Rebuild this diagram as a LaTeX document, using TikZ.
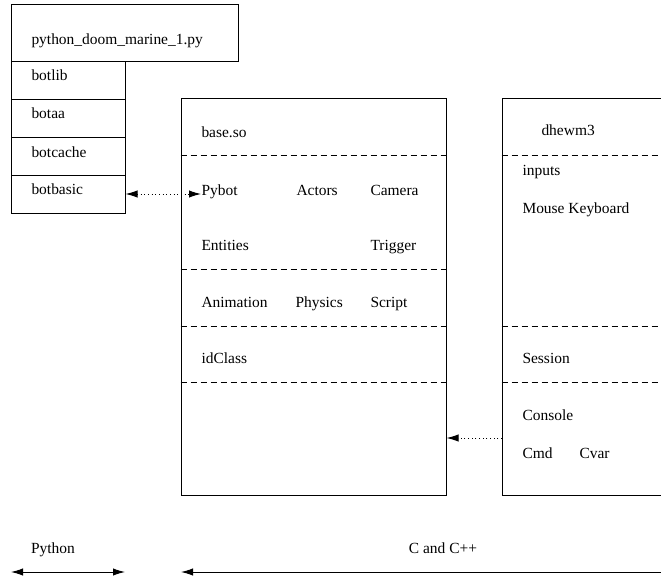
\documentclass[tikz,border=0pt]{standalone}
\usepackage{fontspec}
\setmainfont{Liberation Serif}
\usetikzlibrary{arrows.meta}

\begin{document}
\begin{tikzpicture}[x=0.75pt,y=-0.75pt,line width=0.75pt]
      \tikzstyle{every node}+=[inner sep=0pt, font=\fontsize{11.6}{14}\selectfont]
      \tikzstyle{box}=[draw, rectangle, inner sep=0pt]
      \tikzstyle{lbl}=[anchor=base west]
      \tikzstyle{sep}=[dash pattern=on 4.5pt off 3pt]
      \tikzstyle{tip}=[>={Latex[length=9pt,width=5.5pt]}]
      \tikzstyle{link}=[tip, dotted]
      \clip (0,0) rectangle (661,578);
      \node [box, minimum width=227*0.75pt, minimum height=57*0.75pt] (script) at (124.5,32.5) {};
      \node [lbl] (script-l) at (31,45) {python\_doom\_marine\_1.py};
      \node [box, minimum width=114*0.75pt, minimum height=38*0.75pt] (botlib) at (68,80) {};
      \node [lbl] (botlib-l) at (31,80) {botlib};
      \node [box, minimum width=114*0.75pt, minimum height=38*0.75pt] (botaa) at (68,118) {};
      \node [lbl] (botaa-l) at (31,118) {botaa};
      \node [box, minimum width=114*0.75pt, minimum height=38*0.75pt] (botcache) at (68,156) {};
      \node [lbl] (botcache-l) at (31,157) {botcache};
      \node [box, minimum width=114*0.75pt, minimum height=38*0.75pt] (botbasic) at (68,194) {};
      \node [lbl] (botbasic-l) at (31,194) {botbasic};
      \node [box, minimum width=265*0.75pt, minimum height=397*0.75pt] (base) at (313.5,296.5) {};
      \draw [sep] (base.west |- 0,155) -- (base.east |- 0,155);
      \draw [sep] (base.west |- 0,269) -- (base.east |- 0,269);
      \draw [sep] (base.west |- 0,326) -- (base.east |- 0,326);
      \draw [sep] (base.west |- 0,382) -- (base.east |- 0,382);
      \node [lbl] (base-l) at (201,137) {base.so};
      \node [lbl] (pybot) at (201,195) {Pybot};
      \node [lbl] (actors) at (296,195) {Actors};
      \node [lbl] (camera) at (370,195) {Camera};
      \node [lbl] (entities) at (201,250) {Entities};
      \node [lbl] (trigger) at (370,250) {Trigger};
      \node [lbl] (animation) at (201,307) {Animation};
      \node [lbl] (physics) at (295,307) {Physics};
      \node [lbl] (script-c) at (370,307) {Script};
      \node [lbl] (idclass) at (201,363) {idClass};
      \node [box, minimum width=258*0.75pt, minimum height=397*0.75pt] (dhewm) at (631,296.5) {};
      \draw [sep] (dhewm.west |- 0,155) -- (dhewm.east |- 0,155);
      \draw [sep] (dhewm.west |- 0,326) -- (dhewm.east |- 0,326);
      \draw [sep] (dhewm.west |- 0,382) -- (dhewm.east |- 0,382);
      \node [lbl] (dhewm-l) at (541,135) {dhewm3};
      \node [lbl] (inputs) at (522,175) {inputs};
      \node [lbl] (devices) at (522,213) {Mouse Keyboard};
      \node [lbl] (session) at (522,363) {Session};
      \node [lbl] (console) at (522,420) {Console};
      \node [lbl] (cmd) at (522,458) {Cmd};
      \node [lbl] (cvar) at (579,458) {Cvar};
      \draw [link, <->] (botbasic.east) -- (botbasic.east -| pybot.west);
      \coordinate (cmdlink) at (502,438);
      \draw [link, ->] (cmdlink) -- (cmdlink -| base.east);
      \node [anchor=base] (python-l) at (53,553) {Python};
      \node [anchor=base] (cpp-l) at (443,553) {C and C++};
      \coordinate (py-a) at (11,572);
      \coordinate (py-b) at (125,572);
      \coordinate (cpp-a) at (181,572);
      \coordinate (cpp-b) at (720,572);
      \draw [tip, <->] (py-a) -- (py-b);
      \draw [tip, <->] (cpp-a) -- (cpp-b);
\end{tikzpicture}
\end{document}
